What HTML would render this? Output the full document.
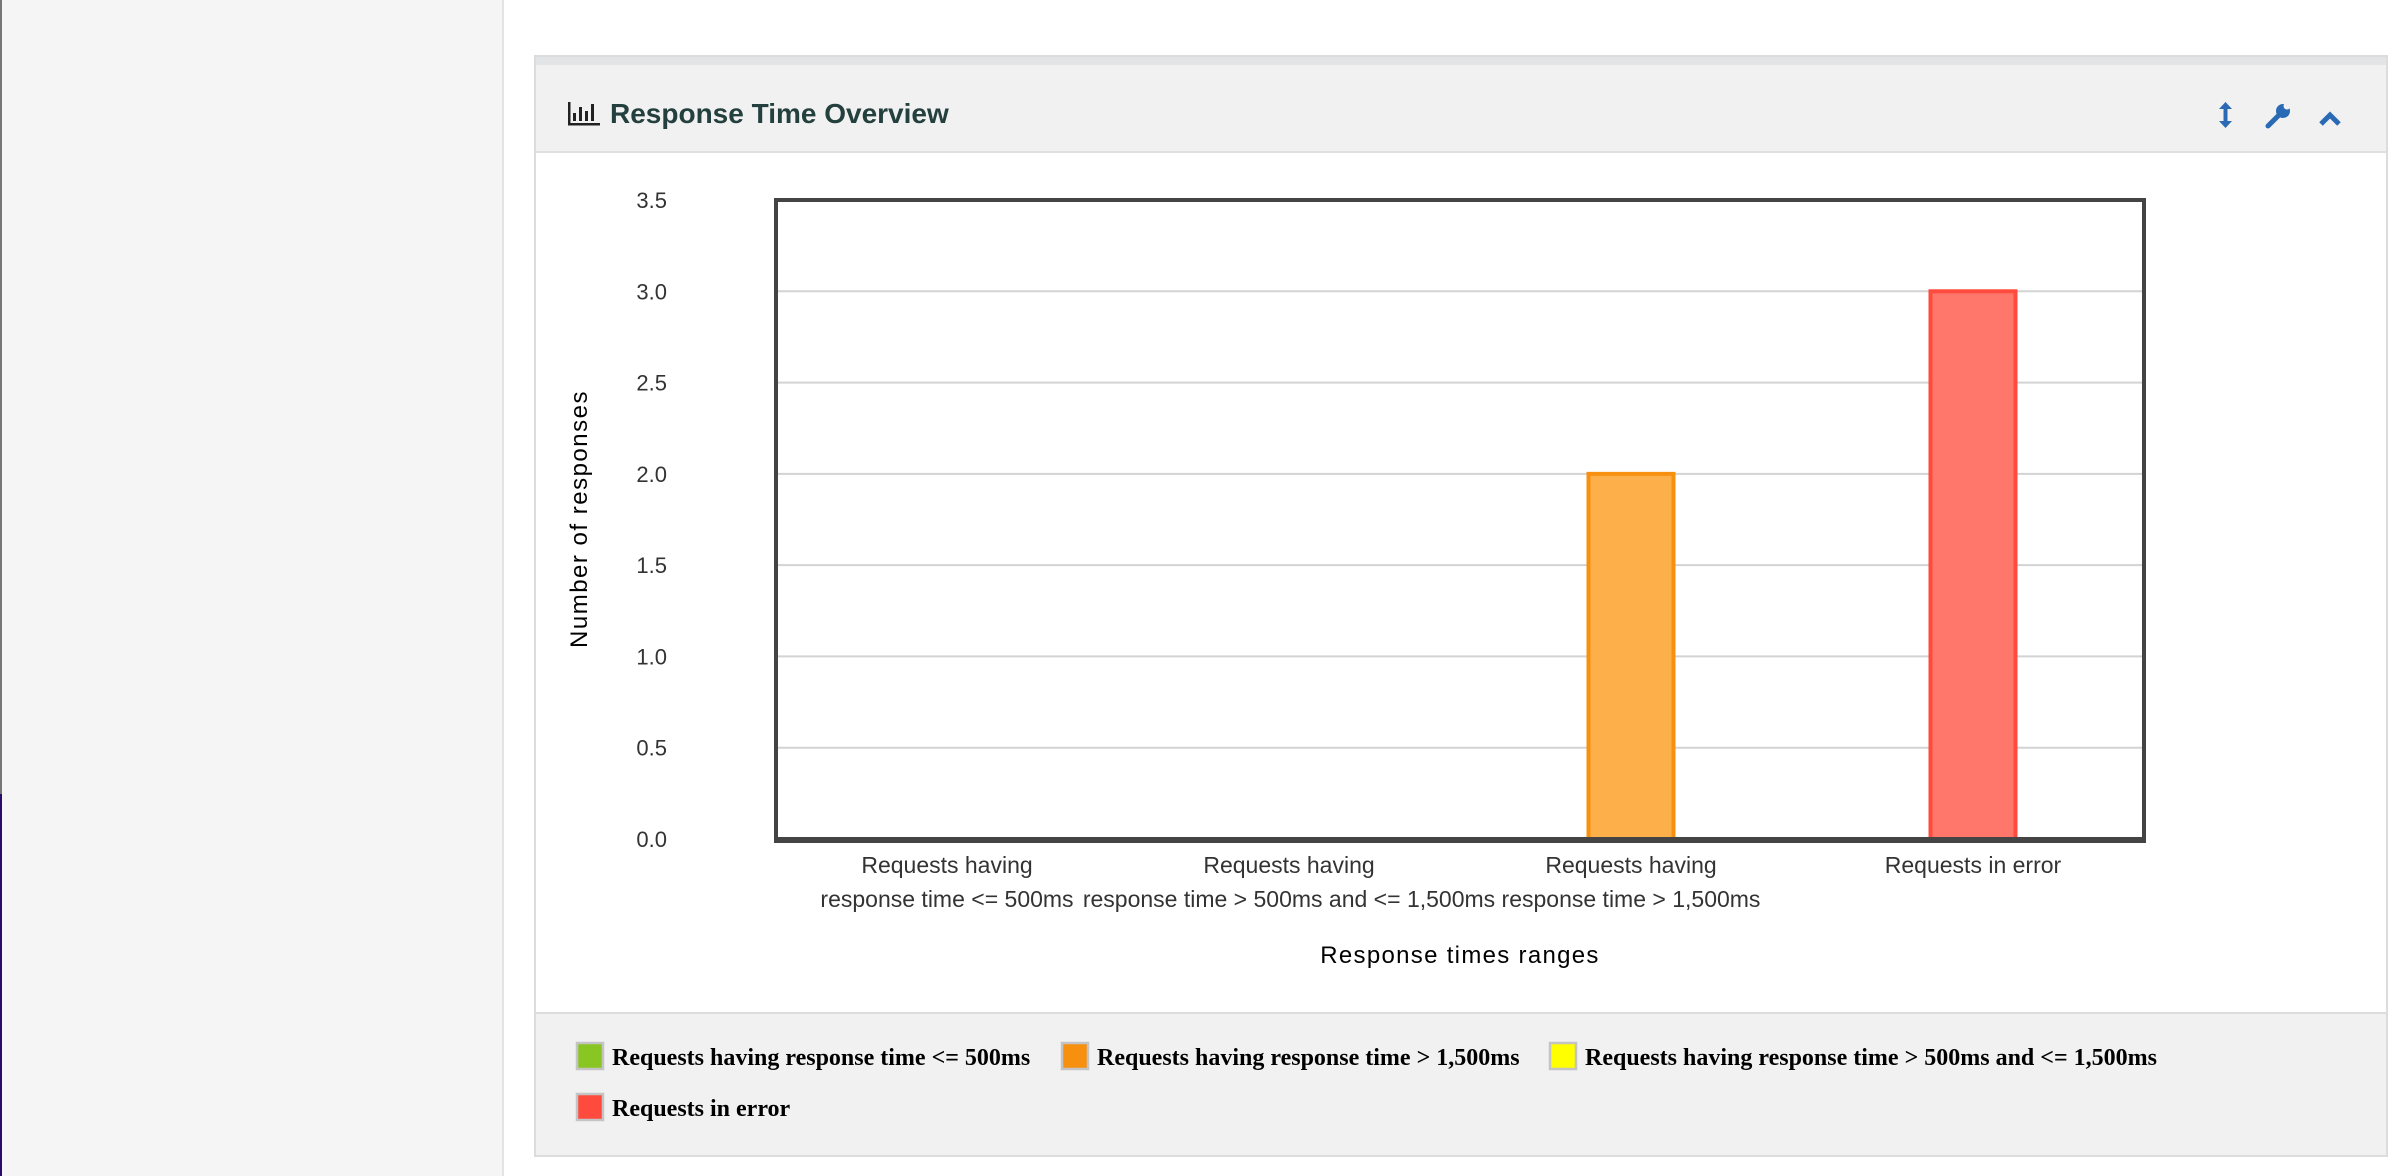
<!DOCTYPE html>
<html><head><meta charset="utf-8"><style>
html,body{margin:0;padding:0;width:2408px;height:1176px;overflow:hidden;background:#fff;font-family:"Liberation Sans",sans-serif}
svg{display:block}
</style></head><body>
<svg id="page" width="2408" height="1176" viewBox="0 0 2408 1176" xmlns="http://www.w3.org/2000/svg">
  <rect x="0" y="0" width="503" height="1176" fill="#f5f5f5"/>
  <rect x="0" y="0" width="2" height="794" fill="#777"/>
  <rect x="0" y="794" width="2" height="382" fill="#2a0a6a"/>
  <rect x="502" y="0" width="2" height="1176" fill="#e4e4e4"/>

  <g>
    <rect x="535" y="56" width="1852" height="1100" fill="#fff" stroke="#dcdcdc" stroke-width="2"/>
    <rect x="536" y="57" width="1850" height="8" fill="#e2e4e6"/>
    <rect x="536" y="65" width="1850" height="86" fill="#f1f1f1"/>
    <rect x="536" y="151" width="1850" height="2" fill="#dde0e2"/>
    <g fill="#222">
      <rect x="568" y="102" width="2.5" height="23"/><rect x="568" y="123" width="32" height="2.5"/>
      <rect x="573" y="113" width="3" height="8"/><rect x="579" y="107" width="3" height="14"/>
      <rect x="585" y="111" width="3" height="10"/><rect x="591" y="104" width="3" height="17"/>
    </g>
    <text x="610" y="123" font-size="28" font-weight="bold" fill="#24403e">Response Time Overview</text>
    <g fill="#2a6ab5">
      <rect x="2223.5" y="106" width="4" height="18"/>
      <polygon points="2219,109 2225.5,102 2232,109"/>
      <polygon points="2219,121 2225.5,128 2232,121"/>
    </g>
    <g fill="#2a6ab5">
      <line x1="2268" y1="126" x2="2279" y2="115" stroke="#2a6ab5" stroke-width="5" stroke-linecap="round"/>
      <circle cx="2283" cy="111" r="7"/>
      <circle cx="2287" cy="106" r="3.5" fill="#f1f1f1"/>
    </g>
    <polyline points="2321,124 2330,115 2339,124" fill="none" stroke="#2a6ab5" stroke-width="5"/>

    <rect x="536" y="1013" width="1850" height="142" fill="#f1f1f1"/>
    <rect x="536" y="1012" width="1850" height="2" fill="#dcdcdc"/>
  </g>

  <g id="chart"></g>

  <g font-family="'Liberation Serif',serif" font-weight="bold" font-size="24" fill="#000">
    <g>
      <rect x="577" y="1043" width="26" height="26" fill="#8ac623" stroke="#c4c4c4" stroke-width="2.5"/>
      <text x="612" y="1065">Requests having response time &lt;= 500ms</text>
    </g>
    <g>
      <rect x="1062" y="1043" width="26" height="26" fill="#f7900f" stroke="#c4c4c4" stroke-width="2.5"/>
      <text x="1097" y="1065">Requests having response time &gt; 1,500ms</text>
    </g>
    <g>
      <rect x="1550" y="1043" width="26" height="26" fill="#ffff00" stroke="#c4c4c4" stroke-width="2.5"/>
      <text x="1585" y="1065">Requests having response time &gt; 500ms and &lt;= 1,500ms</text>
    </g>
    <g>
      <rect x="577" y="1094" width="26" height="26" fill="#ff4b3d" stroke="#c4c4c4" stroke-width="2.5"/>
      <text x="612" y="1116">Requests in error</text>
    </g>
  </g>
</svg>
<script>
const categoriesLine1 = ["Requests having", "Requests having", "Requests having", "Requests in error"];
const categoriesLine2 = ["response time <= 500ms", "response time > 500ms and <= 1,500ms", "response time > 1,500ms", ""];
const seriesValues = [0, 0, 2, 3];
const seriesFill = ["#a6d85a", "#ffff66", "#fdaf49", "#ff776b"];
const seriesStroke = ["#8ac623", "#ffff00", "#f7900f", "#ff4b3d"];
const yTicks = [0, 0.5, 1.0, 1.5, 2.0, 2.5, 3.0, 3.5];
const yTickLabels = ["0.0", "0.5", "1.0", "1.5", "2.0", "2.5", "3.0", "3.5"];

const NS = "http://www.w3.org/2000/svg";
const g = document.getElementById("chart");
const L = 776, R = 2144, T = 200, B = 839, YMAX = 3.5;
const y = v => B - (v / YMAX) * (B - T);
const bw = (R - L) / categoriesLine1.length;
const x = i => L + bw * i + bw / 2;
function mk(tag, attrs) { const e = document.createElementNS(NS, tag); for (const k in attrs) e.setAttribute(k, attrs[k]); g.appendChild(e); return e; }

yTicks.forEach((t, i) => {
  if (t > 0 && t < YMAX) {
    const ln = mk("line", { x1: L, x2: R, y1: y(t), y2: y(t), stroke: "#d3d3d3", "stroke-width": 2 });
    
    
  }
  const tx = mk("text", { x: 667, y: y(t) + 8, "text-anchor": "end", "font-size": 22, fill: "#333" });
  tx.textContent = yTickLabels[i];
  
  
});

seriesValues.forEach((v, i) => {
  if (v <= 0) return;
  const w = 85;
  const r = mk("rect", { x: x(i) - w / 2, y: y(v), width: w, height: B - y(v), fill: seriesFill[i], stroke: seriesStroke[i], "stroke-width": 4 });
  
  
});

const frame = mk("rect", { x: L, y: T, width: R - L, height: B - T, fill: "none", stroke: "#444", "stroke-width": 4 });


const base = mk("line", { x1: L - 2, x2: R + 2, y1: B + 1, y2: B + 1, stroke: "#444", "stroke-width": 6 });



categoriesLine1.forEach((c, i) => {
  const t1 = mk("text", { x: x(i), y: 873, "text-anchor": "middle", "font-size": 23, fill: "#333" });
  t1.textContent = c;
  
  
  if (categoriesLine2[i]) {
    const t2 = mk("text", { x: x(i), y: 907, "text-anchor": "middle", "font-size": 23, fill: "#333" });
    t2.textContent = categoriesLine2[i];
    
    
  }
});

const xt = mk("text", { x: 1460, y: 963, "text-anchor": "middle", "font-size": 24, "letter-spacing": 1.3, fill: "#000" });
xt.textContent = "Response times ranges";


const yt = mk("text", { x: 0, y: 0, "text-anchor": "middle", "font-size": 24, "letter-spacing": 1.5, fill: "#000", transform: "translate(587,519) rotate(-90)" });
yt.textContent = "Number of responses";


</script>
</body></html>
